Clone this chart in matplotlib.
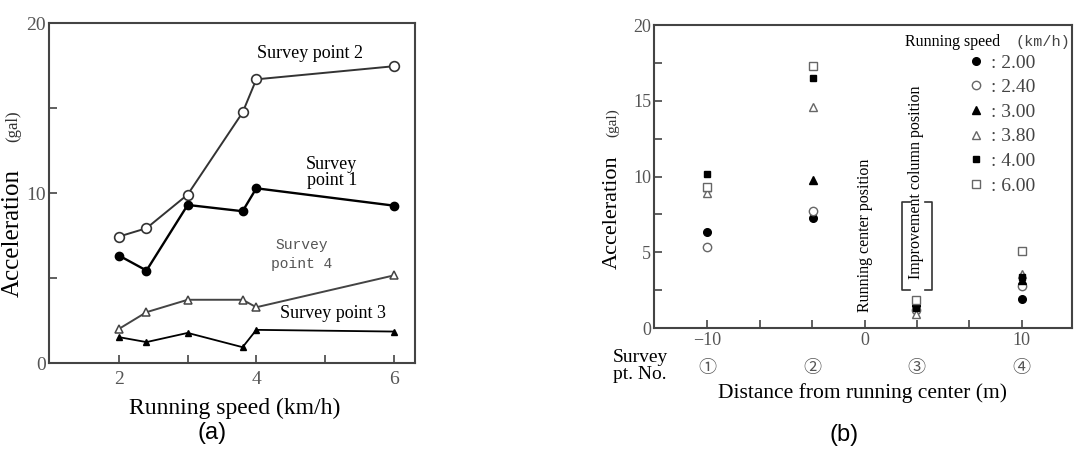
import matplotlib.pyplot as plt
from matplotlib.transforms import blended_transform_factory

# ---- panel (a): acceleration vs running speed ----
speeds = [2.0, 2.4, 3.0, 3.8, 4.0, 6.0]
pt1 = [6.33, 5.45, 9.31, 8.94, 10.29, 9.27]
pt2 = [7.45, 7.94, 9.92, 14.75, 16.7, 17.47]
pt3 = [1.53, 1.24, 1.78, 0.94, 1.96, 1.86]
pt4 = [2.02, 3.0, 3.73, 3.73, 3.29, 5.16]

# ---- panel (b): acceleration vs distance, one series per speed ----
dist = [-10, -3.3, 3.3, 10]
pt_labels = ["①", "②", "③", "④"]
speed_labels = [": 2.00", ": 2.40", ": 3.00", ": 3.80", ": 4.00", ": 6.00"]
acc_200 = [6.37, 7.25, 1.5, 1.9]
acc_240 = [5.34, 7.76, 1.2, 2.8]
acc_300 = [9.3, 9.78, 1.7, 3.2]
acc_380 = [8.95, 14.6, 0.9, 3.6]
acc_400 = [10.18, 16.5, 1.3, 3.35]
acc_600 = [9.34, 17.3, 1.85, 5.12]

SERIF = "Liberation Serif"
GRAY = "#555555"

fig = plt.figure(figsize=(10.89, 4.65), dpi=100)
axa = fig.add_axes([0.045, 0.219, 0.336, 0.731])
axb = fig.add_axes([0.6006, 0.2946, 0.3838, 0.651])

for ax in (axa, axb):
    for s in ax.spines.values():
        s.set_color("#444444")
        s.set_linewidth(1.5)
    ax.tick_params(which="both", direction="in", color="#444444", width=1.2, length=6)

# panel (a)
axa.plot(speeds, pt2, "-o", color="#333333", lw=1.4, ms=7, mfc="white", mec="#333333", mew=1.2)
axa.plot(speeds, pt1, "-o", color="black", lw=1.7, ms=6, mfc="black")
axa.plot(speeds, pt4, "-^", color="#444444", lw=1.4, ms=6, mfc="white", mec="#444444", mew=1.1)
axa.plot(speeds, pt3, "-^", color="black", lw=1.3, ms=5, mfc="black")
axa.set_xlim(0.98, 6.31)
axa.set_ylim(0, 20)
axa.set_xticks([2, 4, 6])
axa.set_xticks([3, 5], minor=True)
axa.set_yticks([0, 10, 20])
axa.set_yticks([5, 15], minor=True)
axa.tick_params(axis="y", pad=2)
axa.tick_params(axis="x", pad=6)
for lab in axa.get_xticklabels() + axa.get_yticklabels():
    lab.set_fontfamily(SERIF)
    lab.set_fontsize(14)
    lab.set_color(GRAY)

axa.text(4.78, 18.2, "Survey point 2", family=SERIF, fontsize=13, ha="center", va="center")
axa.text(5.1, 11.2, "Survey\npoint 1", family=SERIF, fontsize=13, ha="center", va="center",
         linespacing=0.95)
axa.text(4.66, 6.4, "Survey\npoint 4", family="Liberation Mono", fontsize=10.5, ha="center",
         va="center", color=GRAY, linespacing=1.4)
axa.text(5.12, 2.9, "Survey point 3", family=SERIF, fontsize=13, ha="center", va="center")
axa.text(-0.098, 0.382, "Acceleration", transform=axa.transAxes, rotation=90, family=SERIF,
         fontsize=18, ha="center", va="center")
axa.text(-0.098, 0.697, "(gal)", transform=axa.transAxes, rotation=90, family=SERIF,
         fontsize=12, ha="center", va="center", color="#333333")
fig.text(235 / 1089, 1 - 408 / 465, "Running speed (km/h)", family=SERIF, fontsize=17,
         ha="center", va="center")
fig.text(212 / 1089, 1 - 433 / 465, "(a)", family="Liberation Sans", fontsize=17,
         ha="center", va="center")

# panel (b)
series = [acc_200, acc_240, acc_300, acc_380, acc_400, acc_600]
styles = [("o", "black", "black", 5.5), ("o", "white", "#666666", 6),
          ("^", "black", "black", 5.5), ("^", "white", "#666666", 6),
          ("s", "black", "black", 5), ("s", "white", "#666666", 5.5)]
handles = []
for vals, (mk, fc, ec, ms) in zip(series, styles):
    h, = axb.plot(dist, vals, linestyle="none", marker=mk, mfc=fc, mec=ec, ms=ms, mew=1.0)
    handles.append(h)

axb.set_xlim(-13.4, 13.2)
axb.set_ylim(0, 20)
axb.set_xticks([-10, 0, 10])
axb.set_xticklabels(["\u221210", "0", "10"])
axb.set_xticks([-6.67, -3.33, 3.33, 6.67], minor=True)
axb.set_yticks([0, 5, 10, 15, 20])
axb.set_yticks([2.5, 7.5, 12.5, 17.5], minor=True)
axb.tick_params(axis="y", pad=2)
axb.tick_params(axis="x", pad=3)
for lab in axb.get_xticklabels() + axb.get_yticklabels():
    lab.set_fontfamily(SERIF)
    lab.set_fontsize(13)
    lab.set_color(GRAY)

leg = axb.legend(handles, speed_labels, loc="upper left", bbox_to_anchor=(0.746, 0.905),
                 frameon=False, borderpad=0, handletextpad=0.3, handlelength=1.0,
                 labelspacing=0.36, borderaxespad=0,
                 prop={"family": SERIF, "size": 14})
for t in leg.get_texts():
    t.set_color("#444444")
axb.text(0.60, 0.944, "Running speed", transform=axb.transAxes, family=SERIF, fontsize=11.5,
         ha="left", va="center")
axb.text(0.865, 0.944, "(km/h)", transform=axb.transAxes, family="Liberation Mono",
         fontsize=11, ha="left", va="center", color="#444444")

axb.text(0, 6.1, "Running center position", rotation=90, family=SERIF, fontsize=11.5,
         ha="center", va="center")
axb.text(3.3, 9.6, "Improvement column position", rotation=90, family=SERIF, fontsize=11.5,
         ha="center", va="center")
# bracket around the improvement column label
bx0, bx1, by0, by1, bw = 2.41, 4.32, 2.5, 8.3, 0.45
axb.plot([bx0 + bw, bx0, bx0, bx0 + bw], [by1, by1, by0, by0], color="#333333", lw=1.2)
axb.plot([bx1 - bw, bx1, bx1, bx1 - bw], [by1, by1, by0, by0], color="#333333", lw=1.2)

trans = blended_transform_factory(axb.transData, axb.transAxes)
for x, lab in zip(dist, pt_labels):
    axb.text(x, -0.132, lab, transform=trans, family=["Noto Sans CJK JP", "DejaVu Sans"],
             fontsize=13, ha="center", va="center", color=GRAY)

axb.text(-0.10, 0.383, "Acceleration", transform=axb.transAxes, rotation=90, family=SERIF,
         fontsize=16, ha="center", va="center")
axb.text(-0.10, 0.677, "(gal)", transform=axb.transAxes, rotation=90, family=SERIF,
         fontsize=11, ha="center", va="center", color="#333333")
fig.text(640 / 1089, 1 - 366 / 465, "Survey\npt. No.", family=SERIF, fontsize=14,
         ha="center", va="center", linespacing=0.95)
fig.text(863 / 1089, 1 - 393 / 465, "Distance from running center (m)", family=SERIF,
         fontsize=15.5, ha="center", va="center")
fig.text(844 / 1089, 1 - 435 / 465, "(b)", family="Liberation Sans", fontsize=17,
         ha="center", va="center")

fig.savefig("out.png", dpi=100)
